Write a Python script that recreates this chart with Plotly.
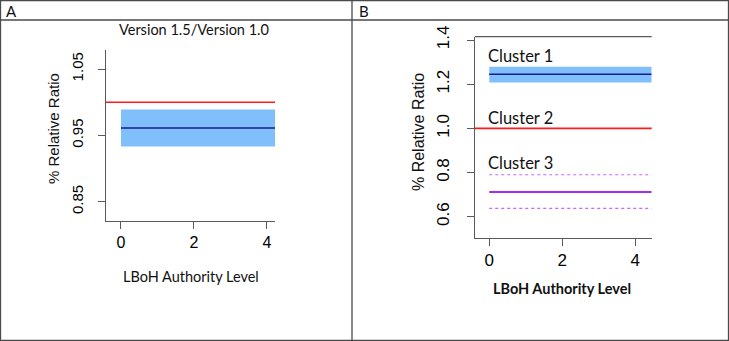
import plotly.graph_objects as go

W, H = 729, 341

# ---------------- data ----------------
# Panel A: Version 1.5 / Version 1.0
a_x = [0, 4.22]
a_mean = 0.961
a_lower = 0.933
a_upper = 0.989
a_ref = 1.0
a_xticks = [0, 2, 4]
a_yticks = [0.85, 0.95, 1.05]
a_yticklabels = ["0.85", "0.95", "1.05"]

# Panel B: clusters
b_x = [0, 4.45]
c1_mean, c1_lower, c1_upper = 1.245, 1.208, 1.279
c2_ref = 1.0
c3_mean, c3_lower, c3_upper = 0.712, 0.638, 0.790
b_xticks = [0, 2, 4]
b_yticks = [0.6, 0.8, 1.0, 1.2, 1.4]
b_yticklabels = ["0.6", "0.8", "1.0", "1.2", "1.4"]
cluster_labels = ["Cluster 1", "Cluster 2", "Cluster 3"]
cluster_label_y = [1.327, 1.045, 0.842]

BAND = "rgba(128,191,250,1)"
NAVY = "#1a1a8c"
RED = "#ff1a1a"
PURPLE = "#a52cf2"
PURPLE_LIGHT = "#c468ff"
AXC = "#5a5a5a"


def px(x):
    return x / W


def py(y):
    return 1 - y / H


fig = go.Figure()

# Panel A traces
fig.add_trace(go.Scatter(x=a_x + a_x[::-1], y=[a_upper, a_upper, a_lower, a_lower],
                         fill="toself", fillcolor=BAND, line=dict(width=0),
                         mode="lines", xaxis="x", yaxis="y", hoverinfo="skip"))
fig.add_trace(go.Scatter(x=a_x, y=[a_mean, a_mean], mode="lines",
                         line=dict(color=NAVY, width=1.6), xaxis="x", yaxis="y"))

# Panel B traces
fig.add_trace(go.Scatter(x=b_x + b_x[::-1], y=[c1_upper, c1_upper, c1_lower, c1_lower],
                         fill="toself", fillcolor=BAND, line=dict(width=0),
                         mode="lines", xaxis="x2", yaxis="y2", hoverinfo="skip"))
fig.add_trace(go.Scatter(x=b_x, y=[c1_mean, c1_mean], mode="lines",
                         line=dict(color=NAVY, width=1.6), xaxis="x2", yaxis="y2"))
fig.add_trace(go.Scatter(x=b_x, y=[c3_mean, c3_mean], mode="lines",
                         line=dict(color=PURPLE, width=2), xaxis="x2", yaxis="y2"))
for v in (c3_upper, c3_lower):
    fig.add_trace(go.Scatter(x=b_x, y=[v, v], mode="lines",
                             line=dict(color=PURPLE_LIGHT, width=1.2, dash="dot"),
                             xaxis="x2", yaxis="y2"))

# reference lines (abline-style)
fig.add_shape(type="line", xref="x domain", yref="y", x0=0, x1=1, y0=a_ref, y1=a_ref,
              line=dict(color=RED, width=1.6))
fig.add_shape(type="line", xref="x2 domain", yref="y2", x0=0, x1=1, y0=c2_ref, y1=c2_ref,
              line=dict(color=RED, width=1.6))
# top frame line of panel B plot
fig.add_shape(type="line", xref="x2 domain", yref="y2 domain", x0=0, x1=1, y0=1, y1=1,
              line=dict(color=AXC, width=1.2))

# figure frame: outer rect, divider, header line
FR = "#4a4a4a"
fig.add_shape(type="rect", xref="paper", yref="paper", x0=px(0.5), x1=px(728.5),
              y0=py(340.5), y1=py(0.5), line=dict(color=FR, width=1.3))
fig.add_shape(type="line", xref="paper", yref="paper", x0=px(352), x1=px(352),
              y0=py(0.5), y1=py(340.5), line=dict(color=FR, width=1.3))
fig.add_shape(type="line", xref="paper", yref="paper", x0=px(0.5), x1=px(728.5),
              y0=py(20), y1=py(20), line=dict(color=FR, width=1.3))

TICKF = dict(family="Liberation Sans, Arial, sans-serif", color="#000")
LABF = "Lato, Open Sans, sans-serif"

ann = []
ann.append(dict(text="A", x=px(4), y=py(11), xref="paper", yref="paper", xanchor="left",
                yanchor="middle", showarrow=False, font=dict(family=LABF, size=15, color="#111")))
ann.append(dict(text="B", x=px(357), y=py(11), xref="paper", yref="paper", xanchor="left",
                yanchor="middle", showarrow=False, font=dict(family=LABF, size=15, color="#111")))
ann.append(dict(text="Version 1.5/Version 1.0", x=px(194), y=py(29), xref="paper", yref="paper",
                xanchor="center", yanchor="middle", showarrow=False,
                font=dict(family=LABF, size=14.5, color="#111")))
ann.append(dict(text="LBoH Authority Level", x=px(191), y=py(276), xref="paper", yref="paper",
                xanchor="center", yanchor="middle", showarrow=False,
                font=dict(family=LABF, size=14.5, color="#111")))
ann.append(dict(text="<b>LBoH Authority Level</b>", x=px(562), y=py(288), xref="paper", yref="paper",
                xanchor="center", yanchor="middle", showarrow=False,
                font=dict(family=LABF, size=14.5, color="#111")))
ann.append(dict(text="% Relative Ratio", x=px(53), y=py(129), xref="paper", yref="paper",
                xanchor="center", yanchor="middle", textangle=-90, showarrow=False,
                font=dict(family=TICKF["family"], size=15, color="#111")))
ann.append(dict(text="% Relative Ratio", x=px(418), y=py(132), xref="paper", yref="paper",
                xanchor="center", yanchor="middle", textangle=-90, showarrow=False,
                font=dict(family=TICKF["family"], size=16, color="#111")))
for lab, yv in zip(cluster_labels, cluster_label_y):
    ann.append(dict(text=lab, x=0, y=yv, xref="x2", yref="y2", xanchor="left",
                    yanchor="middle", xshift=-3, showarrow=False,
                    font=dict(family=LABF, size=16.5, color="#111")))

common = dict(showline=True, linecolor=AXC, linewidth=1.2, ticks="outside", ticklen=7,
              tickcolor=AXC, showgrid=False, zeroline=False, automargin=False)

fig.update_layout(
    width=W, height=H, margin=dict(l=0, r=0, t=0, b=0, pad=0, autoexpand=False),
    paper_bgcolor="white", plot_bgcolor="white", showlegend=False,
    annotations=ann,
    xaxis=dict(domain=[px(106), px(275)], range=[-0.41, 4.22], anchor="y",
               tickvals=a_xticks, ticktext=[str(t) for t in a_xticks],
               tickfont=dict(size=16, **TICKF), **common),
    yaxis=dict(domain=[py(220.7), py(50)], range=[0.8213, 1.0787], anchor="x",
               tickvals=a_yticks, ticktext=a_yticklabels, tickangle=-90,
               ticklabelstandoff=9,
               tickfont=dict(size=15, **TICKF), **common),
    xaxis2=dict(domain=[px(475), px(651.7)], range=[-0.39, 4.45], anchor="y2",
                tickvals=b_xticks, ticktext=[str(t) for t in b_xticks],
                tickfont=dict(size=17, **TICKF), **common),
    yaxis2=dict(domain=[py(237.7), py(36.7)], range=[0.505, 1.415], anchor="x2",
                tickvals=b_yticks, ticktext=b_yticklabels, tickangle=-90,
                ticklabelstandoff=11,
                tickfont=dict(size=17, **TICKF), **common),
)

post = (
    "document.documentElement.style.margin='0';"
    "document.body.style.margin='0';document.body.style.padding='0';"
    "document.body.style.overflow='hidden';"
    "var d=document.getElementById('{plot_id}');"
    "d.style.position='absolute';d.style.top='0px';d.style.left='0px';"
)
fig.write_html("out.html", config={"displayModeBar": False}, post_script=post)
